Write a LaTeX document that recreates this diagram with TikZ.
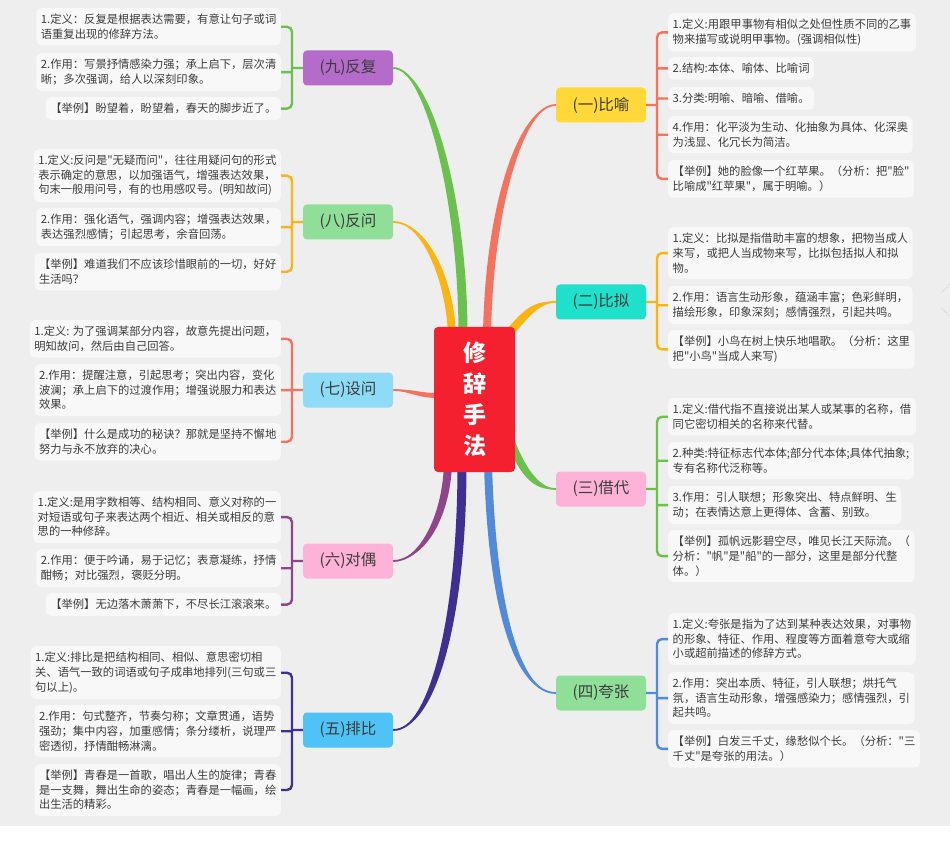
\documentclass[tikz,border=0pt]{standalone}
\usepackage{fontspec}
\setmainfont{Noto Sans CJK SC}[Ligatures=TeXOff]
\usetikzlibrary{calc,backgrounds}
\definecolor{bgc}{HTML}{EEEEEE}
\definecolor{leafc}{HTML}{F8F8F8}
\definecolor{txtc}{HTML}{3C3C3C}
\definecolor{hubred}{HTML}{F41F2F}
\definecolor{nyellow}{HTML}{FFD83A}
\definecolor{nteal}{HTML}{1FE0CB}
\definecolor{npink}{HTML}{FFB2D8}
\definecolor{ngreen}{HTML}{8FDF98}
\definecolor{nblue}{HTML}{4FC2F6}
\definecolor{nsky}{HTML}{8EDBF7}
\definecolor{npurple}{HTML}{B46BC9}
\definecolor{bsalm}{HTML}{F4735F}
\definecolor{bamber}{HTML}{FAB414}
\definecolor{bgreen}{HTML}{6CC04F}
\definecolor{bblue}{HTML}{5289D8}
\definecolor{bindigo}{HTML}{3F2F91}
\definecolor{bpurple}{HTML}{8E4589}
\tikzset{
  leaf/.style={fill=leafc, rounded corners=5pt, inner xsep=4.5pt, inner ysep=6pt,
    align=left, text=txtc, font=\fontsize{11.3}{14.6}\selectfont},
  cat/.style={fill=#1, rounded corners=4pt, minimum width=90pt, minimum height=35pt,
    inner sep=0pt, text=txtc, font=\fontsize{15.5}{18}\selectfont},
  hubbox/.style={fill=hubred, rounded corners=4pt, minimum width=81pt, minimum height=145pt,
    align=center, text=white, font=\fontsize{23}{31}\selectfont\bfseries},
  twig/.style={draw=#1, line width=2.4pt, rounded corners=5pt},
}
% tapered main branch: colour, root, half width, control 1, control 2, end
\newcommand\bough[6]{%
  \fill[#1] ($(#2)+(#3)$) .. controls ($(#4)+(#3)$) and ($(#5)+0.8*(#3)$) .. (#6)
    .. controls ($(#5)-0.8*(#3)$) and ($(#4)-(#3)$) .. ($(#2)-(#3)$) -- cycle;
  \draw[#1, line width=1.8pt] (#2) .. controls (#4) and (#5) .. (#6);}
\begin{document}
\begin{tikzpicture}[x=1pt, y=-1pt]
\useasboundingbox (0,0) rectangle (950,858);
\fill[white] (0,826) rectangle (950,858);

\node [hubbox] (hub) at (474.5,399.5) {修\\辞\\手\\法};

\node [cat=nyellow] (yu) at (601,105) {(一)比喻};
\node [cat=nteal] (ni) at (601,302) {(二)比拟};
\node [cat=npink] (dai) at (601,489) {(三)借代};
\node [cat=ngreen] (kua) at (601,693) {(四)夸张};
\node [cat=npurple] (fu) at (348,68) {(九)反复};
\node [cat=ngreen] (fan) at (348,222) {(八)反问};
\node [cat=nsky] (she) at (348,390) {(七)设问};
\node [cat=npink] (ou) at (348,561) {(六)对偶};
\node [cat=nblue] (pai) at (348,730) {(五)排比};

\node [leaf, anchor=north west] (yu1) at (668,13) {1.定义:用跟甲事物有相似之处但性质不同的乙事\\物来描写或说明甲事物。(强调相似性)};
\node [leaf, anchor=north west] (yu2) at (668,57) {2.结构:本体、喻体、比喻词};
\node [leaf, anchor=north west] (yu3) at (668,87) {3.分类:明喻、暗喻、借喻。};
\node [leaf, anchor=north west] (yu4) at (668,116) {4.作用：化平淡为生动、化抽象为具体、化深奥\\为浅显、化冗长为简洁。};
\node [leaf, anchor=north west] (yu5) at (668,160) {【举例】她的脸像一个红苹果。（分析：把"脸"\\比喻成"红苹果"，属于明喻。）};

\node [leaf, anchor=north west] (ni1) at (668,227) {1.定义：比拟是指借助丰富的想象，把物当成人\\来写，或把人当成物来写，比拟包括拟人和拟\\物。};
\node [leaf, anchor=north west] (ni2) at (668,286) {2.作用：语言生动形象，蕴涵丰富；色彩鲜明，\\描绘形象，印象深刻；感情强烈，引起共鸣。};
\node [leaf, anchor=north west] (ni3) at (668,330) {【举例】小鸟在树上快乐地唱歌。（分析：这里\\把"小鸟"当成人来写)};

\node [leaf, anchor=north west] (dai1) at (668,398) {1.定义:借代指不直接说出某人或某事的名称，借\\同它密切相关的名称来代替。};
\node [leaf, anchor=north west] (dai2) at (668,442) {2.种类:特征标志代本体;部分代本体;具体代抽象;\\专有名称代泛称等。};
\node [leaf, anchor=north west] (dai3) at (668,486) {3.作用：引人联想；形象突出、特点鲜明、生\\动；在表情达意上更得体、含蓄、别致。};
\node [leaf, anchor=north west] (dai4) at (668,530) {【举例】孤帆远影碧空尽，唯见长江天际流。（\\分析："帆"是"船"的一部分，这里是部分代整\\体。）};

\node [leaf, anchor=north west] (kua1) at (668,613) {1.定义:夸张是指为了达到某种表达效果，对事物\\的形象、特征、作用、程度等方面着意夸大或缩\\小或超前描述的修辞方式。};
\node [leaf, anchor=north west] (kua2) at (668,672) {2.作用：突出本质、特征，引人联想；烘托气\\氛，语言生动形象，增强感染力；感情强烈，引\\起共鸣。};
\node [leaf, anchor=north west] (kua3) at (668,730) {【举例】白发三千丈，缘愁似个长。（分析："三\\千丈"是夸张的用法。）};

\node [leaf, anchor=north east] (fu1) at (281,8) {1.定义：反复是根据表达需要，有意让句子或词\\语重复出现的修辞方法。};
\node [leaf, anchor=north east] (fu2) at (281,53) {2.作用：写景抒情感染力强；承上启下，层次清\\晰；多次强调，给人以深刻印象。};
\node [leaf, anchor=north east] (fu3) at (281,97) {【举例】盼望着，盼望着，春天的脚步近了。};

\node [leaf, anchor=north east] (fan1) at (281,149) {1.定义:反问是"无疑而问"，往往用疑问句的形式\\表示确定的意思，以加强语气，增强表达效果，\\句末一般用问号，有的也用感叹号。(明知故问)};
\node [leaf, anchor=north east] (fan2) at (281,208) {2.作用：强化语气，强调内容；增强表达效果，\\表达强烈感情；引起思考，余音回荡。};
\node [leaf, anchor=north east] (fan3) at (281,253) {【举例】难道我们不应该珍惜眼前的一切，好好\\生活吗？};

\node [leaf, anchor=north east] (she1) at (281,320) {1.定义: 为了强调某部分内容，故意先提出问题，\\明知故问，然后由自己回答。};
\node [leaf, anchor=north east] (she2) at (281,364) {2.作用：提醒注意，引起思考；突出内容，变化\\波澜；承上启下的过渡作用；增强说服力和表达\\效果。};
\node [leaf, anchor=north east] (she3) at (281,423) {【举例】什么是成功的秘诀？那就是坚持不懈地\\努力与永不放弃的决心。};

\node [leaf, anchor=north east] (ou1) at (281,491) {1.定义:是用字数相等、结构相同、意义对称的一\\对短语或句子来表达两个相近、相关或相反的意\\思的一种修辞。};
\node [leaf, anchor=north east] (ou2) at (281,549) {2.作用：便于吟诵，易于记忆；表意凝练，抒情\\酣畅；对比强烈，褒贬分明。};
\node [leaf, anchor=north east] (ou3) at (281,593) {【举例】无边落木萧萧下，不尽长江滚滚来。};

\node [leaf, anchor=north east] (pai1) at (281,646) {1.定义:排比是把结构相同、相似、意思密切相\\关、语气一致的词语或句子成串地排列(三句或三\\句以上)。};
\node [leaf, anchor=north east] (pai2) at (281,705) {2.作用：句式整齐，节奏匀称；文章贯通，语势\\强劲；集中内容，加重感情；条分缕析，说理严\\密透彻，抒情酣畅淋漓。};
\node [leaf, anchor=north east] (pai3) at (281,764) {【举例】青春是一首歌，唱出人生的旋律；青春\\是一支舞，舞出生命的姿态；青春是一幅画，绘\\出生活的精彩。};

\draw [twig=bsalm] (yu1.west) -- ++(-11,0) |- (yu5.west) (yu2.west) -- ++(-11,0) (yu3.west) -- ++(-11,0) (yu4.west) -- ++(-11,0) (yu.east) -- ++(11,0);
\draw [twig=bamber] (ni1.west) -- ++(-11,0) |- (ni3.west) (ni2.west) -- ++(-11,0) (ni.east) -- ++(11,0);
\draw [twig=bgreen] (dai1.west) -- ++(-11,0) |- (dai4.west) (dai2.west) -- ++(-11,0) (dai3.west) -- ++(-11,0) (dai.east) -- ++(11,0);
\draw [twig=bblue] (kua1.west) -- ++(-11,0) |- (kua3.west) (kua2.west) -- ++(-11,0) (kua.east) -- ++(11,0);
\draw [twig=bgreen] (fu1.east) -- ++(11,0) |- (fu3.east) (fu2.east) -- ++(11,0) (fu.west) -- ++(-11,0);
\draw [twig=bamber] (fan1.east) -- ++(11,0) |- (fan3.east) (fan2.east) -- ++(11,0) (fan.west) -- ++(-11,0);
\draw [twig=bsalm] (she1.east) -- ++(11,0) |- (she3.east) (she2.east) -- ++(11,0) (she.west) -- ++(-11,0);
\draw [twig=bpurple] (ou1.east) -- ++(11,0) |- (ou3.east) (ou2.east) -- ++(11,0) (ou.west) -- ++(-11,0);
\draw [twig=bindigo] (pai1.east) -- ++(11,0) |- (pai3.east) (pai2.east) -- ++(11,0) (pai.west) -- ++(-11,0);

\coordinate (r1) at ([xshift=12.5pt,yshift=-8pt]hub.north);
\coordinate (r2) at ([xshift=-5pt,yshift=-5pt]hub.north east);
\coordinate (r3) at ([xshift=-5pt,yshift=32pt]hub.south east);
\coordinate (r4) at ([xshift=13.5pt,yshift=8pt]hub.south);
\coordinate (r5) at ([xshift=-12.5pt,yshift=8pt]hub.south);
\coordinate (r6) at ([xshift=-26.5pt,yshift=8pt]hub.south);
\coordinate (r7) at ([xshift=6pt,yshift=4pt]hub.west);
\coordinate (r8) at ([xshift=-22.5pt,yshift=-8pt]hub.north);
\coordinate (r9) at ([xshift=-11.5pt,yshift=-8pt]hub.north);

\begin{scope}[on background layer]
\fill[bgc] (0,0) rectangle (950,826);
\draw[black!12, line width=1pt] (950,284) -- (941,293) (941,308) -- (950,316);
\bough{bsalm}{r1}{4,0}{489,205}{522,105}{yu.west}
\bough{bamber}{r2}{3,3}{525,315}{535,302}{ni.west}
\bough{bgreen}{r3}{3,-3}{522,470}{535,489}{dai.west}
\bough{bblue}{r4}{4,0}{492,610}{518,693}{kua.west}
\bough{bindigo}{r5}{4.5,0}{462,620}{432,730}{pai.east}
\bough{bpurple}{r6}{4,0}{446,520}{420,561}{ou.east}
\bough{bsalm}{r7}{0,2.5}{420,396}{410,390}{she.east}
\bough{bamber}{r8}{4,0}{450,280}{425,222}{fan.east}
\bough{bgreen}{r9}{4.5,0}{463,200}{428,68}{fu.east}
\end{scope}
\end{tikzpicture}
\end{document}
